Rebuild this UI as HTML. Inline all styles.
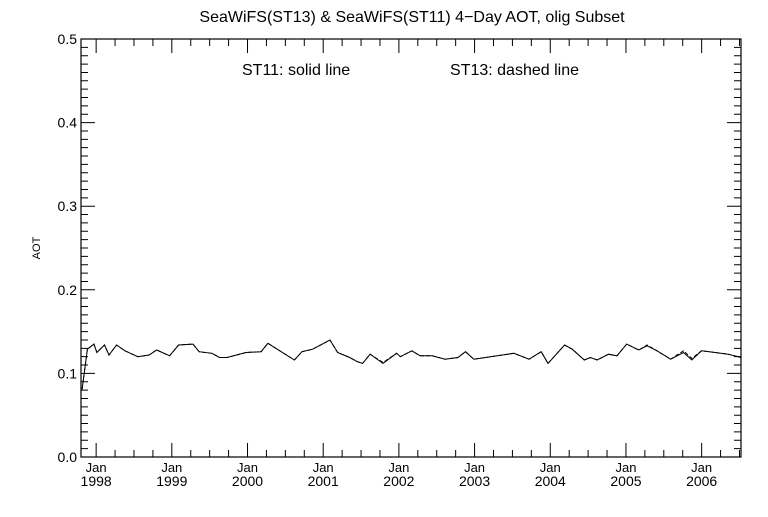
<!DOCTYPE html>
<html><head><meta charset="utf-8"><style>
html,body{margin:0;padding:0;background:#fff;}
svg text{font-family:"Liberation Sans",sans-serif;fill:#000;}
</style></head><body>
<svg id="chart" width="768" height="512" viewBox="0 0 768 512">
<rect width="768" height="512" fill="#fff"/>
<text x="412" y="22" font-size="16" text-anchor="middle">SeaWiFS(ST13) &amp; SeaWiFS(ST11) 4−Day AOT, olig Subset</text>
<text x="242" y="75" font-size="16" text-anchor="start">ST11: solid line</text>
<text x="579" y="75" font-size="16" text-anchor="end">ST13: dashed line</text>
<text x="40" y="248" font-size="11" text-anchor="middle" transform="rotate(-90 40 248)">AOT</text>
<g id="axes"></g>
<g id="series"></g>
</svg>
<script>
const times=[1997.815,1997.885,1997.97,1998.01,1998.11,1998.17,1998.27,1998.38,1998.55,1998.70,1998.80,1998.97,1999.09,1999.28,1999.36,1999.53,1999.63,1999.73,1999.98,2000.18,2000.27,2000.62,2000.72,2000.86,2001.09,2001.19,2001.35,2001.45,2001.52,2001.62,2001.79,2001.97,2002.02,2002.17,2002.28,2002.44,2002.61,2002.78,2002.88,2002.99,2003.30,2003.52,2003.72,2003.88,2003.97,2004.19,2004.29,2004.45,2004.53,2004.62,2004.77,2004.88,2005.01,2005.17,2005.28,2005.41,2005.59,2005.76,2005.87,2006.00,2006.18,2006.35,2006.52];
const st11=[0.081,0.129,0.135,0.125,0.134,0.122,0.134,0.127,0.120,0.122,0.128,0.121,0.134,0.135,0.126,0.124,0.119,0.119,0.125,0.126,0.136,0.116,0.126,0.129,0.140,0.125,0.119,0.114,0.112,0.123,0.112,0.124,0.120,0.127,0.121,0.121,0.117,0.119,0.126,0.117,0.121,0.124,0.117,0.126,0.112,0.134,0.129,0.116,0.119,0.116,0.123,0.121,0.135,0.128,0.133,0.127,0.117,0.125,0.116,0.127,0.125,0.123,0.119];
const st13=[0.081,0.129,0.135,0.125,0.134,0.122,0.134,0.127,0.120,0.122,0.128,0.121,0.134,0.135,0.126,0.124,0.119,0.119,0.125,0.126,0.136,0.116,0.126,0.129,0.140,0.125,0.119,0.114,0.112,0.123,0.113,0.124,0.120,0.127,0.121,0.121,0.117,0.119,0.126,0.117,0.121,0.124,0.117,0.126,0.112,0.134,0.129,0.116,0.119,0.116,0.123,0.121,0.135,0.128,0.134,0.127,0.117,0.127,0.118,0.127,0.125,0.123,0.119];
const yTicks=["0.0","0.1","0.2","0.3","0.4","0.5"];
const xYears=[1998,1999,2000,2001,2002,2003,2004,2005,2006];
const L=81,R=741,T=39,B=457,t0=1997.80,t1=2006.52,yMax=0.5;
const sx=t=>L+(t-t0)/(t1-t0)*(R-L);
const sy=v=>B-v/yMax*(B-T);
const NS="http://www.w3.org/2000/svg";
const ax=document.getElementById('axes');
function mk(tag,attrs,parent){const e=document.createElementNS(NS,tag);for(const k in attrs)e.setAttribute(k,attrs[k]);parent.appendChild(e);return e;}
const frame=mk('rect',{x:L,y:T,width:R-L,height:B-T,fill:'none',stroke:'#000','stroke-width':1.2},ax);


let d='';
for(let i=0;i<=50;i++){const v=i*0.01,y=sy(v),len=(i%10===0)?14:7;d+=`M${L},${y}h${len}M${R},${y}h${-len}`;}
for(let m=-2;m<=35;m++){const t=1998+m*0.25;if(t<t0||t>t1)continue;const x=sx(t),len=(m%4===0)?14:7;d+=`M${x},${B}v${-len}M${x},${T}v${len}`;}
const tk=mk('path',{d:d,stroke:'#000','stroke-width':1,fill:'none'},ax);


yTicks.forEach((s,i)=>{const tx=mk('text',{x:L-4,y:sy(parseFloat(s))+5,'font-size':14,'text-anchor':'end'},ax);tx.textContent=s;

});
xYears.forEach(yr=>{const x=sx(yr);
const a=mk('text',{x:x,y:472,'font-size':13,'text-anchor':'middle'},ax);a.textContent='Jan';


const b=mk('text',{x:x,y:486,'font-size':14,'text-anchor':'middle'},ax);b.textContent=String(yr);

});
const sg=document.getElementById('series');
function line(vals,dash,name){const p=vals.map((v,i)=>`${i?'L':'M'}${sx(times[i]).toFixed(1)},${sy(v).toFixed(1)}`).join('');
const e=mk('path',{d:p,fill:'none',stroke:'#000','stroke-width':1},sg);if(dash)e.setAttribute('stroke-dasharray',dash);

}
line(st13,'4,2','st13-dashed-line');
line(st11,null,'st11-solid-line');
</script>
</body></html>
